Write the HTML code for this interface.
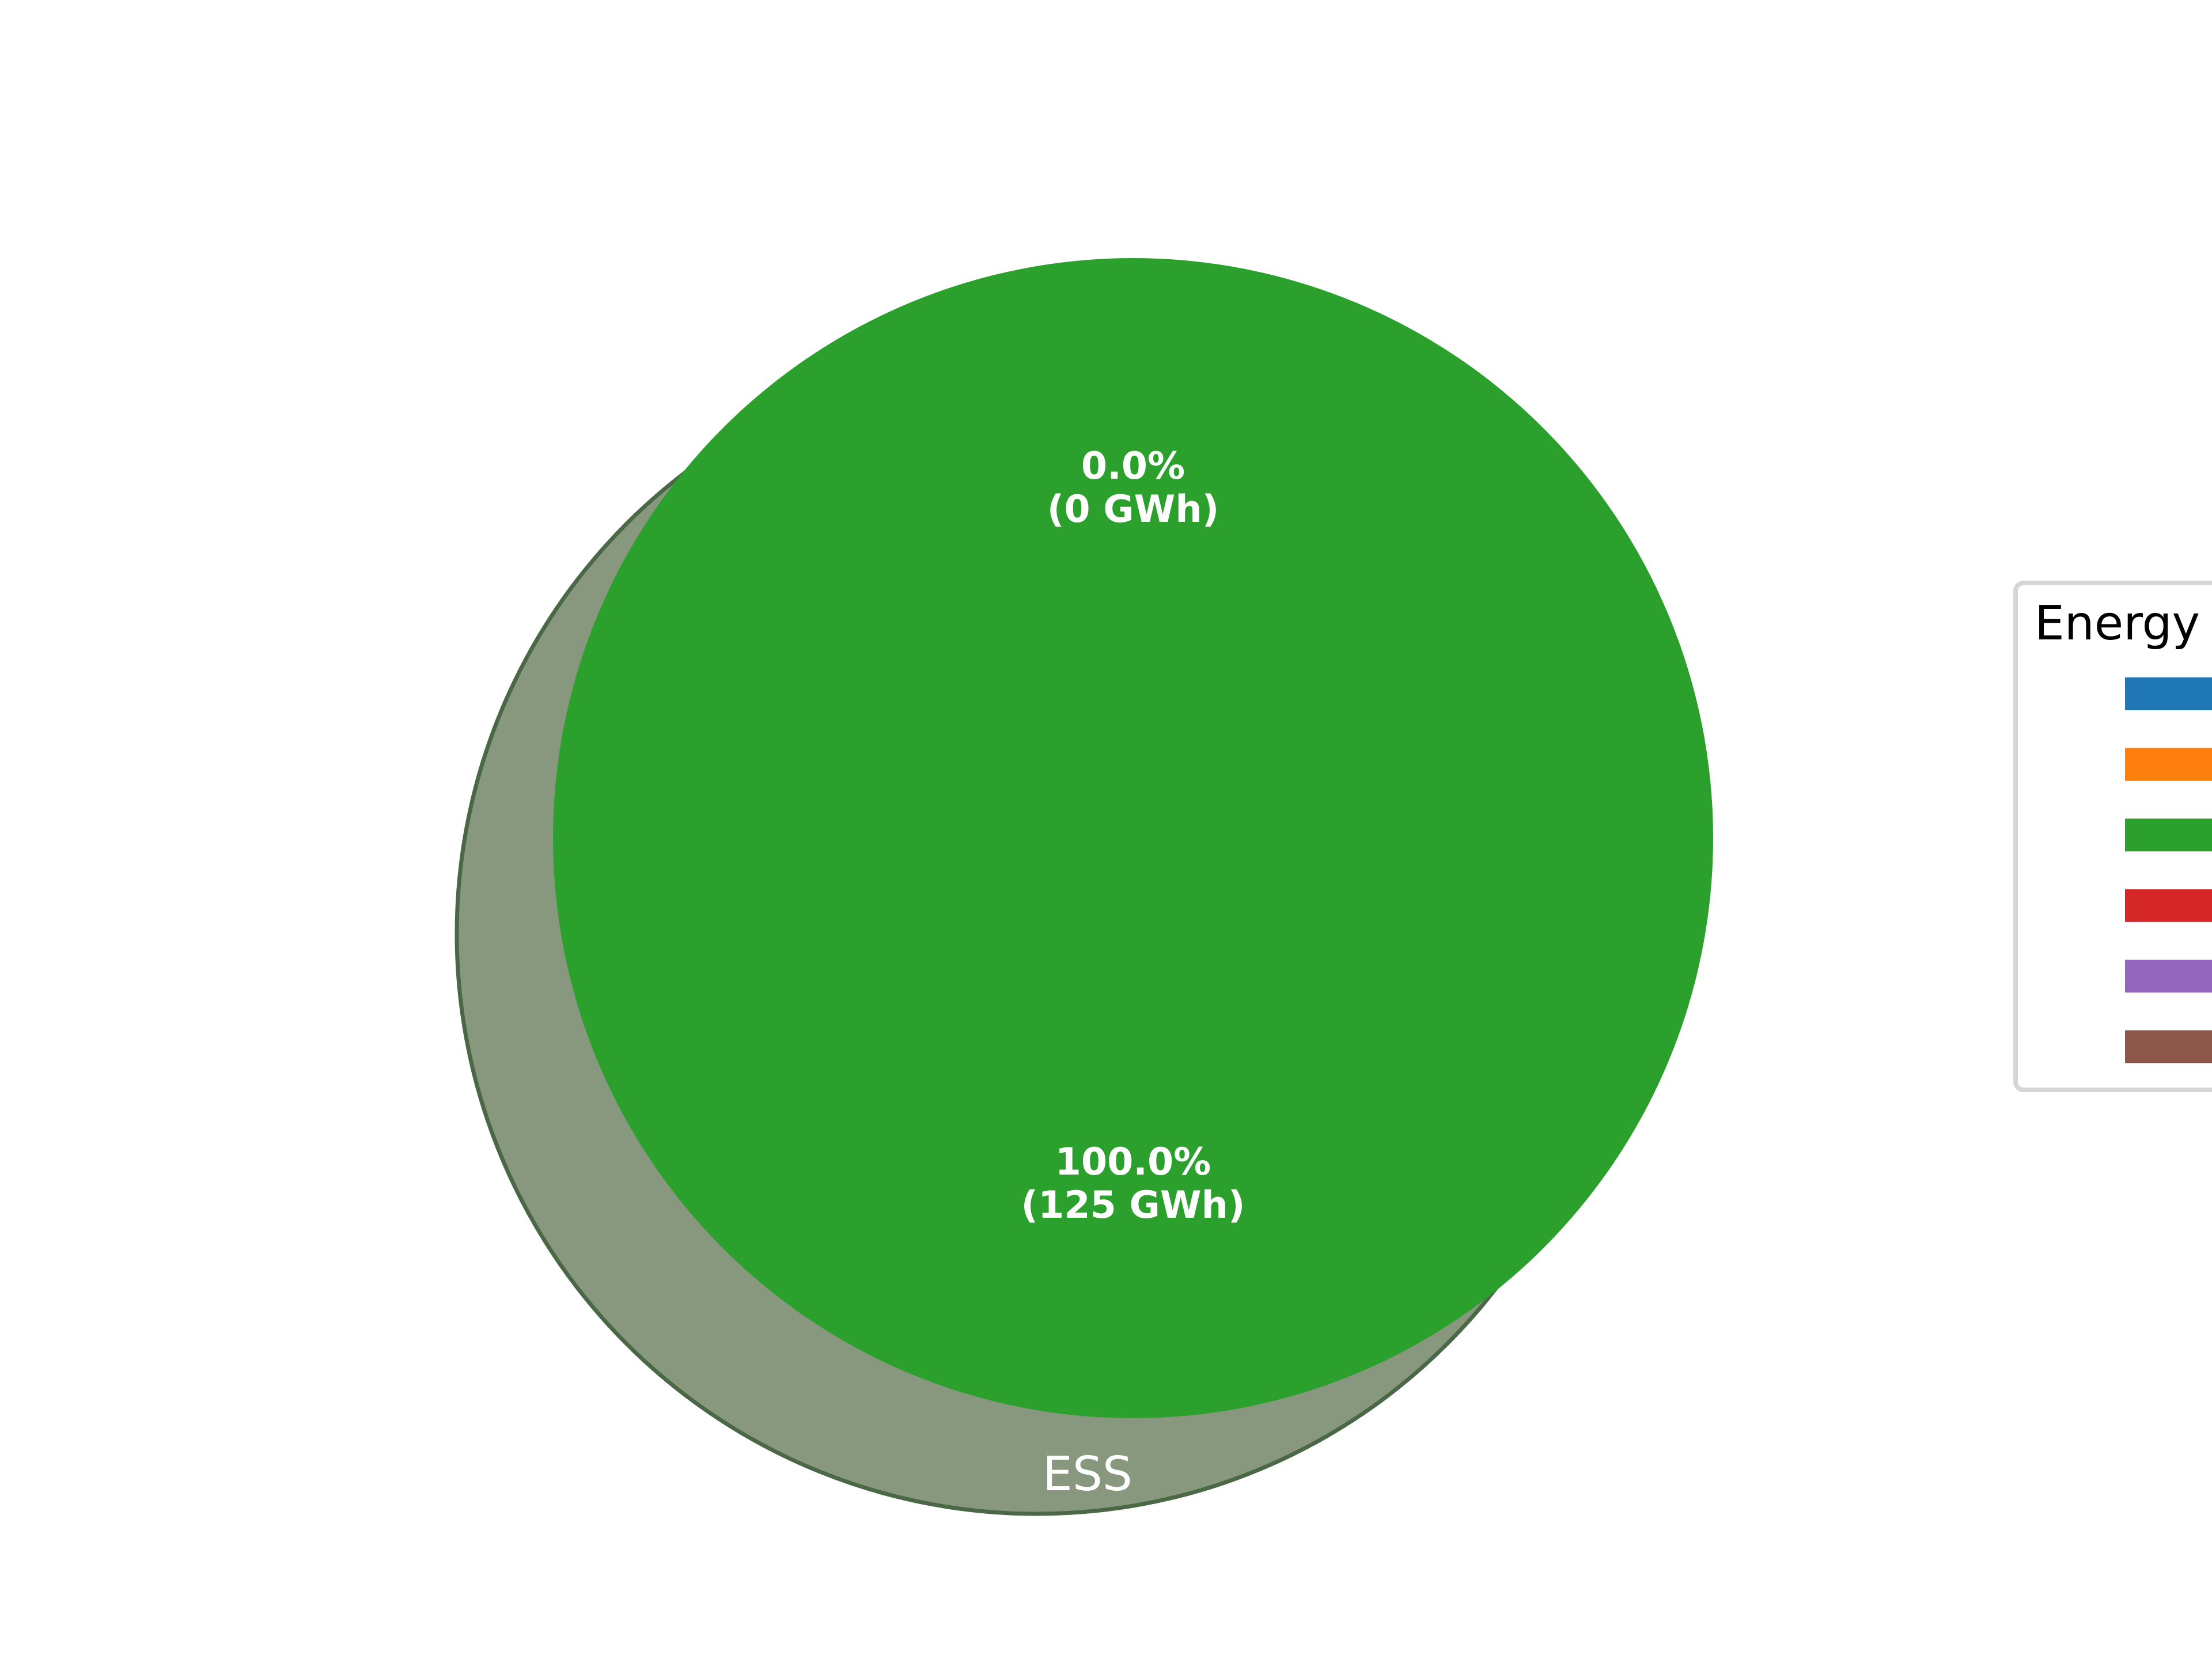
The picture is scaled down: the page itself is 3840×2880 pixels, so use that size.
<!DOCTYPE html>
<html><head><meta charset="utf-8"><style>
html,body{margin:0;padding:0;background:#fff;}
svg{display:block;}
text{font-family:"DejaVu Sans","Liberation Sans",sans-serif;}
</style></head><body>
<svg id="chart" width="3840" height="2880" viewBox="0 0 3840 2880" xmlns="http://www.w3.org/2000/svg">
<rect width="3840" height="2880" fill="#ffffff"/>
<circle cx="1800" cy="1621" r="1007" fill="#87987f" stroke="#4a6845" stroke-width="7"/>
<text x="1888" y="2587" font-size="82" fill="#ffffff" text-anchor="middle">ESS</text>
<g id="pie"></g>
<g>
<rect x="3499" y="1012" width="420" height="880" rx="14" fill="#ffffff" stroke="#d6d6d6" stroke-width="8"/>
<text x="3532" y="1110" font-size="82" fill="#000">Energy</text>
<g id="legend-items"></g>
</g>
</svg>
<script>
const sliceLabels = ["0.0%", "100.0%"];
const sliceValues = [0, 125];
const sliceColors = ["#2ca02c", "#2ca02c"];
const legendColors = ["#1f77b4", "#ff7f0e", "#2ca02c", "#d62728", "#9467bd", "#8c564b"];

const NS = "http://www.w3.org/2000/svg";
const cx = 1967, cy = 1455, R = 1007;
const pie = document.getElementById("pie");
const total = sliceValues.reduce((a, b) => a + b, 0);
let ang = 90;
sliceValues.forEach((v, i) => {
  const sweep = total ? v / total * 360 : 0;
  const a0 = ang, a1 = ang + sweep;
  if (sweep >= 359.999) {
    const c = document.createElementNS(NS, "circle");
    c.setAttribute("cx", cx); c.setAttribute("cy", cy); c.setAttribute("r", R);
    c.setAttribute("fill", sliceColors[i]);
    
    
    pie.appendChild(c);
  } else if (sweep > 0) {
    const r0 = a0 * Math.PI / 180, r1 = a1 * Math.PI / 180;
    const p = document.createElementNS(NS, "path");
    p.setAttribute("d", `M${cx},${cy} L${cx + R * Math.cos(r0)},${cy - R * Math.sin(r0)} A${R},${R} 0 ${sweep > 180 ? 1 : 0} 0 ${cx + R * Math.cos(r1)},${cy - R * Math.sin(r1)} Z`);
    p.setAttribute("fill", sliceColors[i]);
    
    
    pie.appendChild(p);
  }
  ang = a1;
});
ang = 90;
sliceValues.forEach((v, i) => {
  const sweep = total ? v / total * 360 : 0;
  const mid = (ang + sweep / 2) * Math.PI / 180;
  const lx = cx + 0.6 * R * Math.cos(mid), ly = cy - 0.6 * R * Math.sin(mid);
  const t = document.createElementNS(NS, "text");
  t.setAttribute("x", lx); t.setAttribute("text-anchor", "middle");
  t.setAttribute("font-size", "65"); t.setAttribute("font-weight", "bold"); t.setAttribute("fill", "#ffffff");
  
  
  const s1 = document.createElementNS(NS, "tspan");
  s1.setAttribute("x", lx); s1.setAttribute("y", ly - 20); s1.textContent = sliceLabels[i];
  const s2 = document.createElementNS(NS, "tspan");
  s2.setAttribute("x", lx); s2.setAttribute("y", ly + 55); s2.textContent = "(" + v + " GWh)";
  t.appendChild(s1); t.appendChild(s2);
  pie.appendChild(t);
  ang += sweep;
});
const li = document.getElementById("legend-items");
legendColors.forEach((c, i) => {
  const r = document.createElementNS(NS, "rect");
  r.setAttribute("x", 3689); r.setAttribute("y", 1176 + i * 122.5);
  r.setAttribute("width", 200); r.setAttribute("height", 57);
  r.setAttribute("fill", c);
  
  
  li.appendChild(r);
});
</script>
</body></html>
